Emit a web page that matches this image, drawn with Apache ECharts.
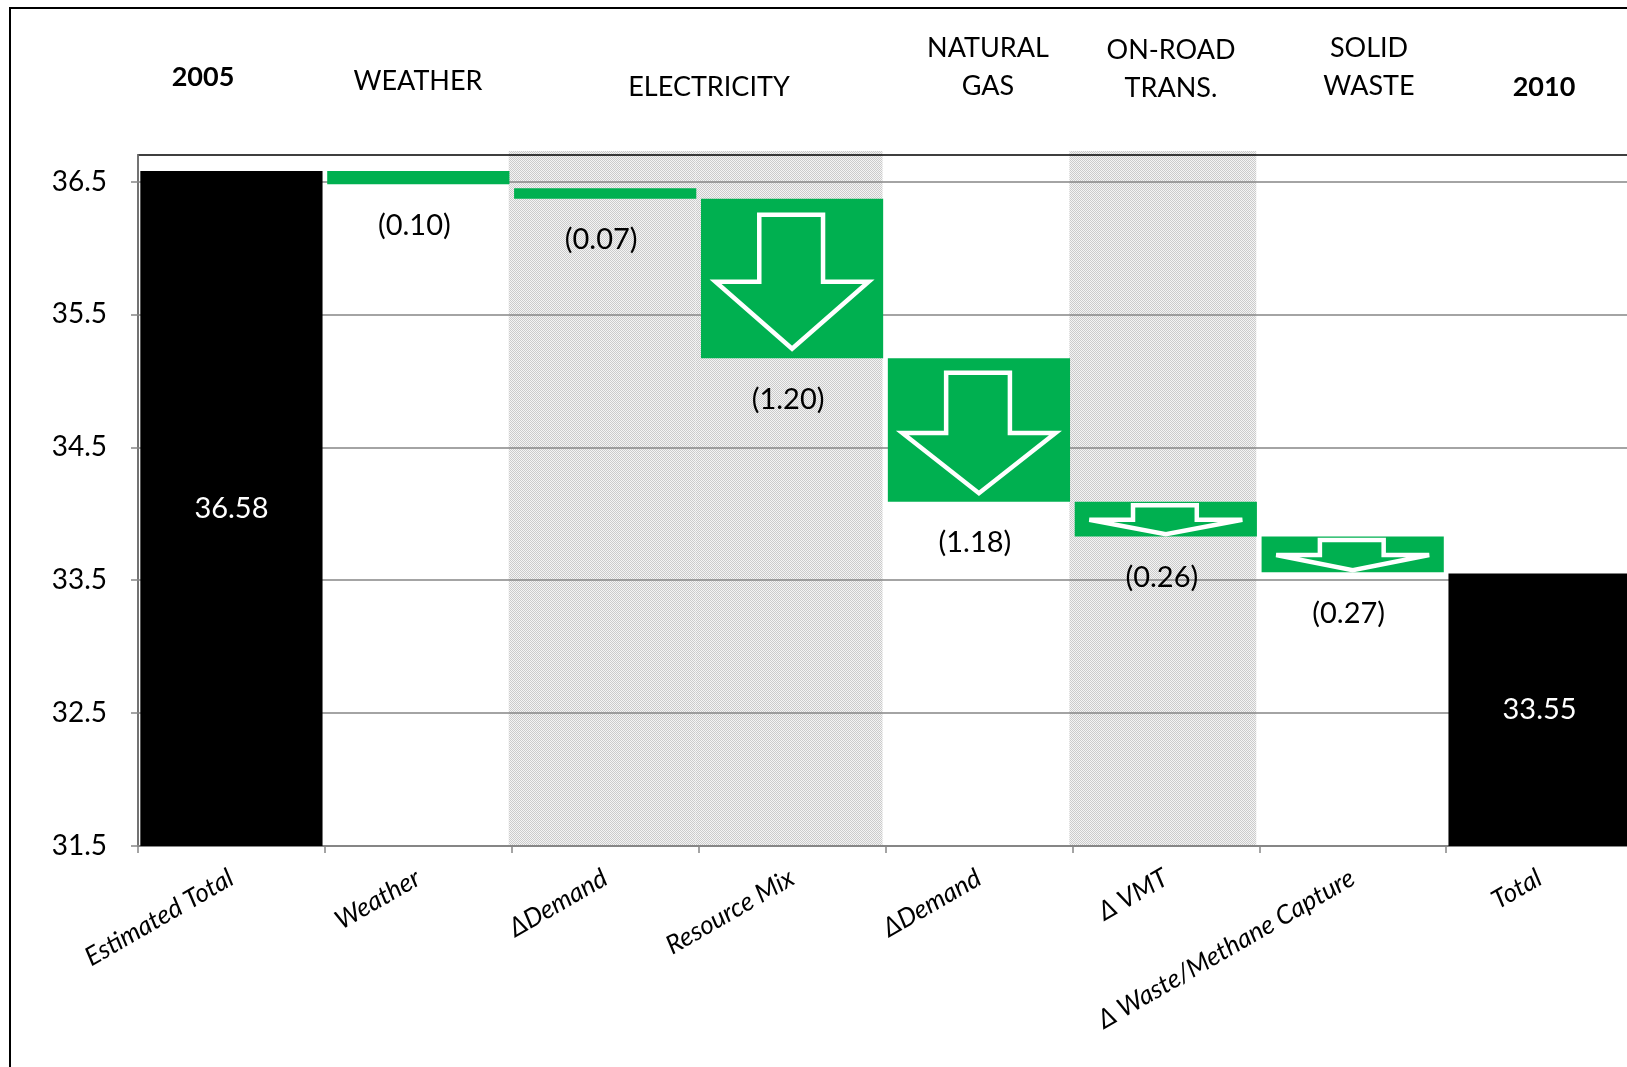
<!DOCTYPE html>
<html>
<head>
<meta charset="utf-8">
<script src="https://cdn.jsdelivr.net/npm/echarts@6.0.0/dist/echarts.min.js"></script>
<style>
  html, body { margin: 0; padding: 0; background: #fff; overflow: hidden; }
  #main { width: 1627px; height: 1067px; }
</style>
</head>
<body>
<div id="main"></div>
<script>
// categories along the bottom
const categories = ['Estimated Total', 'Weather', 'ΔDemand', 'Resource Mix', 'ΔDemand', 'Δ VMT', 'Δ Waste/Methane Capture', 'Total'];
// top and bottom of every block
const barTop    = [36.58, 36.58, 36.45, 36.37, 35.17, 34.09, 33.83, 33.55];
const barBottom = [31.5,  36.48, 36.37, 35.17, 34.09, 33.83, 33.56, 31.5];
const barKind   = ['total', 'delta', 'delta', 'delta', 'delta', 'delta', 'delta', 'total'];
const valueLabels = ['36.58', '(0.10)', '(0.07)', '(1.20)', '(1.18)', '(0.26)', '(0.27)', '33.55'];
// shaded columns (electricity + on-road)
const shadedCols = [2, 3, 5];
// y axis
const yTicks = [31.5, 32.5, 33.5, 34.5, 35.5, 36.5];
const yMin = 31.5, yMax = 36.7;
// group headers above the plot
const headerTexts = ['2005', 'WEATHER', 'ELECTRICITY', 'NATURAL\nGAS', 'ON-ROAD\nTRANS.', 'SOLID\nWASTE', '2010'];

const headerX = [203, 418, 709, 988, 1171, 1369, 1544];
const headerY = [77, 81, 87, 67, 69, 67, 87];

const FONT = 'Lato, "Open Sans", sans-serif';
const GREEN = '#00B050';
const AXIS_GRAY = '#868686';

// dotted gray fill like the excel pattern
const tile = document.createElement('canvas');
tile.width = 2; tile.height = 2;
const tctx = tile.getContext('2d');
tctx.fillStyle = '#f4f4f4'; tctx.fillRect(0, 0, 2, 2);
tctx.fillStyle = '#cbcbcb'; tctx.fillRect(0, 0, 1, 1); tctx.fillRect(1, 1, 1, 1);

const chart = echarts.init(document.getElementById('main'));

function renderBand(params, api) {
    const i = api.value(0);
    const p1 = api.coord([i, yMax]);
    const p2 = api.coord([i, yMin]);
    const w = api.size([1, 0])[0];
    return {
        type: 'rect',
        shape: { x: p1[0] - w / 2 - 3, y: p1[1] - 4, width: w, height: p2[1] - p1[1] + 4 },
        style: { fill: { image: tile, repeat: 'repeat' } }
    };
}

function renderBar(params, api) {
    const i = api.value(0);
    const pTop = api.coord([i, api.value(1)]);
    const pBot = api.coord([i, api.value(2)]);
    const w = api.size([1, 0])[0] * 0.975;
    const x = pTop[0] - w / 2;
    const y = pTop[1];
    const h = pBot[1] - pTop[1];
    const isTotal = barKind[i] === 'total';
    const children = [{
        type: 'rect',
        shape: { x: x, y: y, width: w, height: h },
        style: { fill: isTotal ? '#000' : GREEN }
    }];
    if (!isTotal && h > 20) {
        const pts = [[0.32, 0.10], [0.67, 0.10], [0.67, 0.52], [0.92, 0.52], [0.5, 0.94], [0.08, 0.52], [0.32, 0.52]];
        children.push({
            type: 'polygon',
            shape: { points: pts.map(p => [x + p[0] * w, y + p[1] * h]) },
            style: { fill: GREEN, stroke: '#fff', lineWidth: 4.5, lineJoin: 'miter' }
        });
    }
    children.push({
        type: 'text',
        style: {
            text: valueLabels[i],
            x: isTotal ? pTop[0] : pTop[0] - 4,
            y: isTotal ? y + h / 2 : pBot[1] + 41,
            align: 'center',
            verticalAlign: 'middle',
            fontSize: 29,
            fontFamily: FONT,
            fill: isTotal ? '#fff' : '#000'
        }
    });
    return { type: 'group', children: children };
}

const headerGraphics = headerTexts.map((t, k) => ({
    type: 'text',
    x: headerX[k],
    y: headerY[k],
    style: {
        text: t,
        align: 'center',
        verticalAlign: 'middle',
        fontSize: 27,
        lineHeight: 38,
        fontFamily: FONT,
        fontWeight: (k === 0 || k === headerTexts.length - 1) ? 'bold' : 'normal',
        fill: '#000'
    }
}));

let option = {
    animation: false,
    backgroundColor: '#fff',
    grid: {
        left: 138,
        top: 155,
        right: -6,
        bottom: 221,
        show: true,
        borderColor: '#000',
        borderWidth: 1.5,
        containLabel: false,
        outerBoundsMode: 'none'
    },
    xAxis: {
        type: 'category',
        data: categories,
        boundaryGap: true,
        axisLine: { lineStyle: { color: AXIS_GRAY, width: 2 } },
        axisTick: { show: true, length: 7, lineStyle: { color: AXIS_GRAY, width: 1.5 } },
        axisLabel: {
            rotate: 30,
            margin: 30,
            interval: 0,
            fontSize: 26,
            fontStyle: 'italic',
            fontFamily: FONT,
            color: '#000'
        },
        splitLine: { show: false }
    },
    yAxis: {
        type: 'value',
        min: yMin,
        max: yMax,
        axisLine: { show: true, lineStyle: { color: AXIS_GRAY, width: 1.5 } },
        axisTick: { show: true, length: 7, customValues: yTicks, lineStyle: { color: AXIS_GRAY, width: 1.5 } },
        axisLabel: {
            customValues: yTicks,
            formatter: v => Number(v).toFixed(1),
            margin: 31,
            fontSize: 28,
            fontFamily: FONT,
            color: '#000'
        },
        splitLine: { show: true, lineStyle: { color: AXIS_GRAY, width: 1.5 } }
    },
    graphic: [
        {
            type: 'rect',
            shape: { x: 10, y: 8, width: 1700, height: 1200 },
            style: { fill: 'none', stroke: '#000', lineWidth: 2 },
            z: -10
        }
    ].concat(headerGraphics),
    series: [
        {
            type: 'custom',
            name: 'bands',
            z: -1,
            silent: true,
            renderItem: renderBand,
            encode: { x: 0 },
            data: shadedCols.map(c => [c])
        },
        {
            type: 'custom',
            name: 'blocks',
            z: 3,
            renderItem: renderBar,
            encode: { x: 0, y: [1, 2] },
            data: categories.map((c, i) => [i, barTop[i], barBottom[i]])
        }
    ]
};

chart.setOption(option);
</script>
</body>
</html>
